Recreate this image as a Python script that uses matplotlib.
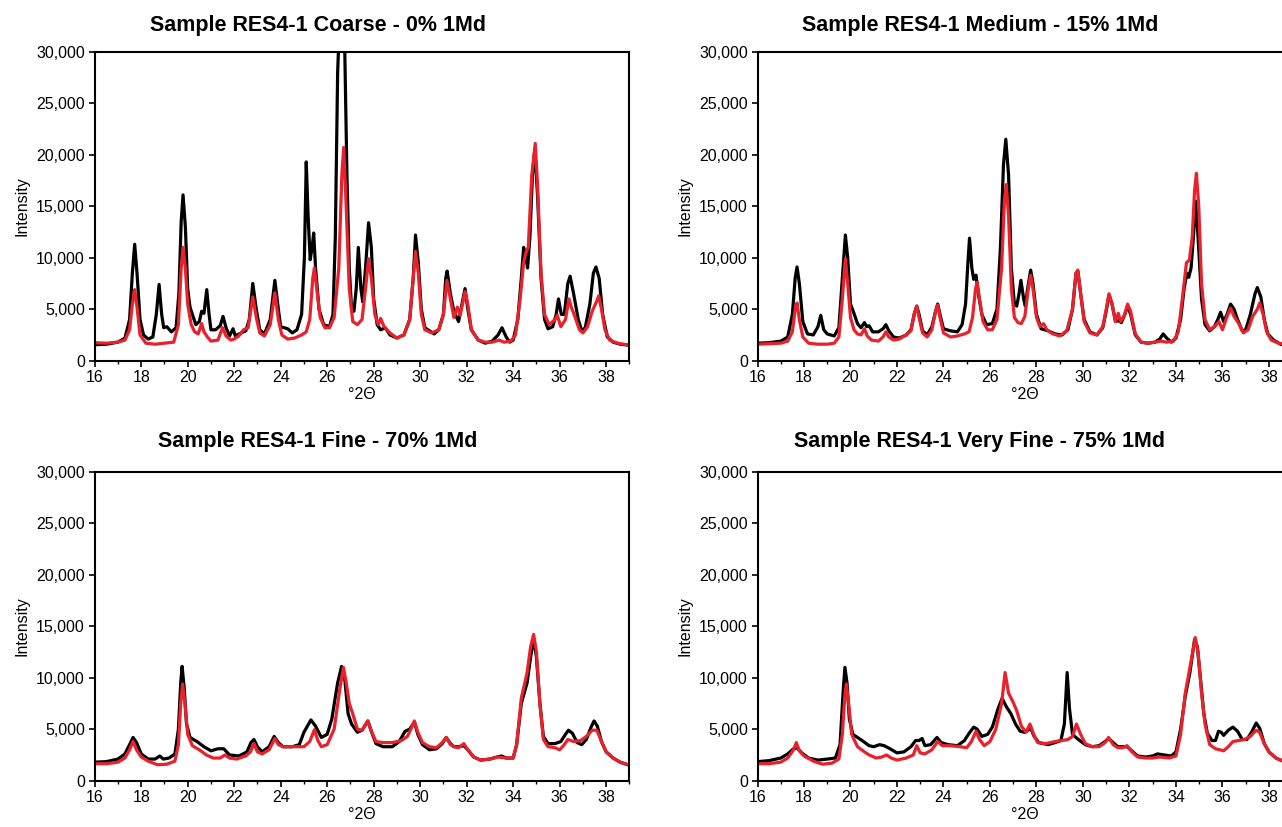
import matplotlib
matplotlib.use("Agg")
import matplotlib.pyplot as plt
from matplotlib.ticker import MultipleLocator, StrMethodFormatter

plt.rcParams['font.family'] = ['Liberation Sans', 'DejaVu Sans']

#---Diffractograms: (2-theta, intensity)
coarse_black = [
    (16.0, 1550), (16.5, 1600), (17.0, 1800), (17.3, 2200), (17.5, 4000), (17.62, 8500), (17.72, 11300),
    (17.82, 8500), (17.95, 4000), (18.1, 2500), (18.3, 2100), (18.5, 2300), (18.65, 4500), (18.77, 7400),
    (18.88, 4500), (18.97, 3200), (19.1, 3300), (19.3, 2800), (19.5, 3200), (19.62, 6500), (19.72, 13500),
    (19.8, 16100), (19.9, 13000), (20.0, 7000), (20.1, 5200), (20.2, 4500), (20.35, 3500), (20.5, 3800),
    (20.6, 4800), (20.7, 4600), (20.82, 6900), (20.92, 4500), (21.0, 3000), (21.2, 3000), (21.4, 3400),
    (21.52, 4300), (21.65, 3200), (21.8, 2400), (21.95, 3100), (22.05, 2400), (22.3, 2700), (22.5, 2900),
    (22.65, 4000), (22.8, 7500), (22.95, 5000), (23.1, 3000), (23.3, 2600), (23.55, 4000), (23.75, 7800),
    (23.9, 5000), (24.0, 3300), (24.3, 3100), (24.5, 2700), (24.7, 3000), (24.9, 4500), (25.02, 10000),
    (25.1, 19300), (25.18, 14000), (25.27, 9800), (25.35, 11000), (25.42, 12400), (25.5, 9000), (25.65, 5000),
    (25.85, 3500), (26.1, 3300), (26.25, 4500), (26.35, 12000), (26.45, 28000), (26.55, 34000), (26.65, 35000),
    (26.75, 31000), (26.85, 18000), (26.95, 9000), (27.05, 5000), (27.15, 4800), (27.25, 7000), (27.34, 11000),
    (27.45, 7000), (27.53, 5700), (27.65, 9000), (27.78, 13400), (27.9, 11000), (28.0, 6000), (28.15, 3500),
    (28.3, 3000), (28.5, 3200), (28.7, 2500), (29.0, 2200), (29.3, 2500), (29.55, 4000), (29.7, 8000),
    (29.8, 12200), (29.92, 9500), (30.05, 5000), (30.2, 3200), (30.4, 2900), (30.6, 2600), (30.8, 3000),
    (31.0, 4500), (31.1, 8000), (31.16, 8700), (31.3, 6500), (31.45, 4800), (31.55, 4300), (31.65, 3800),
    (31.8, 5500), (31.93, 7000), (32.05, 5000), (32.2, 3000), (32.5, 2000), (32.8, 1700), (33.1, 1900),
    (33.35, 2500), (33.52, 3200), (33.7, 2300), (33.85, 1800), (34.0, 2000), (34.2, 4000), (34.35, 8000),
    (34.45, 11000), (34.55, 10000), (34.62, 9000), (34.72, 12000), (34.83, 18000), (34.93, 20500),
    (35.05, 16000), (35.2, 8000), (35.35, 4000), (35.5, 3100), (35.7, 3300), (35.85, 4500), (35.95, 6000),
    (36.07, 4500), (36.2, 4500), (36.35, 7500), (36.45, 8200), (36.6, 6500), (36.8, 4000), (36.95, 2900),
    (37.1, 3200), (37.3, 5500), (37.45, 8500), (37.56, 9100), (37.7, 8000), (37.85, 4500), (38.05, 2300),
    (38.3, 1800), (38.6, 1600), (39.0, 1500)]

coarse_red = [
    (16.0, 1750), (16.5, 1700), (17.0, 1800), (17.3, 2000), (17.5, 3000), (17.62, 5500), (17.72, 6900),
    (17.82, 5200), (17.95, 2500), (18.2, 1700), (18.6, 1600), (19.0, 1700), (19.4, 1800), (19.6, 3500),
    (19.72, 9000), (19.8, 11000), (19.9, 9000), (20.0, 5500), (20.15, 3500), (20.3, 2800), (20.45, 2600),
    (20.6, 3600), (20.7, 2800), (20.85, 2300), (21.0, 1900), (21.3, 2000), (21.5, 3200), (21.65, 2400),
    (21.85, 2000), (22.0, 2100), (22.2, 2400), (22.4, 3000), (22.6, 3200), (22.8, 6200), (22.95, 4200),
    (23.1, 2700), (23.3, 2400), (23.55, 3500), (23.75, 6600), (23.9, 4000), (24.05, 2500), (24.3, 2100),
    (24.6, 2200), (24.9, 2500), (25.1, 2800), (25.25, 4000), (25.38, 8000), (25.45, 9000), (25.55, 7000),
    (25.7, 4200), (25.9, 3200), (26.1, 3200), (26.3, 4200), (26.5, 9000), (26.63, 18000), (26.71, 20700),
    (26.8, 16000), (26.95, 7000), (27.1, 3800), (27.3, 3500), (27.5, 4000), (27.65, 7000), (27.78, 9900),
    (27.9, 8000), (28.05, 4500), (28.2, 3500), (28.3, 4100), (28.45, 3300), (28.7, 2700), (29.0, 2200),
    (29.3, 2500), (29.55, 4000), (29.7, 8000), (29.8, 10600), (29.92, 8500), (30.05, 4500), (30.2, 3000),
    (30.5, 2700), (30.8, 3000), (31.0, 4500), (31.15, 7800), (31.3, 6000), (31.45, 4200), (31.6, 5200),
    (31.72, 4400), (31.93, 6700), (32.05, 5500), (32.2, 3000), (32.5, 2000), (32.8, 1800), (33.1, 1800),
    (33.4, 2000), (33.6, 1800), (33.9, 1900), (34.1, 2500), (34.3, 6000), (34.45, 9500), (34.55, 10500),
    (34.65, 11000), (34.8, 18000), (34.95, 21100), (35.05, 17000), (35.2, 8500), (35.35, 4500), (35.55, 3500),
    (35.8, 4000), (35.9, 4400), (36.05, 3300), (36.25, 4000), (36.4, 6000), (36.5, 5200), (36.65, 4300),
    (36.85, 3000), (37.0, 2700), (37.2, 3300), (37.4, 4800), (37.6, 5800), (37.68, 6300), (37.8, 5000),
    (37.95, 3000), (38.15, 2000), (38.5, 1700), (39.0, 1500)]

medium_black = [
    (16.0, 1700), (16.5, 1750), (17.0, 1900), (17.3, 2300), (17.5, 4500), (17.62, 8000), (17.7, 9100),
    (17.8, 7500), (17.95, 3800), (18.15, 2600), (18.4, 2500), (18.6, 3300), (18.72, 4400), (18.85, 3000),
    (19.0, 2600), (19.3, 2400), (19.5, 3200), (19.65, 8000), (19.78, 12200), (19.88, 10000), (20.0, 5500),
    (20.15, 4600), (20.3, 3600), (20.45, 3200), (20.6, 3700), (20.7, 3300), (20.8, 3400), (20.95, 2800),
    (21.2, 2800), (21.4, 3100), (21.52, 3500), (21.65, 2900), (21.85, 2300), (22.1, 2200), (22.4, 2500),
    (22.6, 3000), (22.75, 4600), (22.85, 5300), (22.95, 4500), (23.1, 2900), (23.3, 2500), (23.5, 3300),
    (23.65, 4700), (23.75, 5500), (23.87, 4300), (24.0, 3100), (24.3, 2900), (24.6, 2800), (24.8, 3500),
    (24.95, 5500), (25.05, 9500), (25.12, 11900), (25.22, 9000), (25.3, 7900), (25.4, 8300), (25.5, 6500),
    (25.65, 4500), (25.85, 3500), (26.1, 3600), (26.3, 5000), (26.45, 11000), (26.58, 19000), (26.68, 21500),
    (26.8, 18000), (26.92, 9000), (27.05, 5500), (27.15, 5300), (27.25, 6500), (27.33, 7800), (27.45, 6000),
    (27.52, 5300), (27.62, 7000), (27.75, 8800), (27.85, 7500), (28.0, 4500), (28.2, 3100), (28.5, 2900),
    (28.8, 2600), (29.1, 2500), (29.35, 3000), (29.55, 5000), (29.7, 8500), (29.78, 8700), (29.9, 6500),
    (30.05, 4000), (30.3, 2800), (30.6, 2500), (30.85, 3200), (31.0, 4800), (31.12, 6400), (31.25, 5500),
    (31.4, 3800), (31.52, 3900), (31.65, 3700), (31.8, 4500), (31.92, 5300), (32.05, 4500), (32.25, 2500),
    (32.5, 1800), (32.8, 1700), (33.1, 1800), (33.3, 2100), (33.45, 2600), (33.6, 2200), (33.8, 1800),
    (34.0, 2200), (34.2, 4000), (34.35, 7000), (34.47, 8500), (34.55, 8100), (34.65, 9000), (34.75, 12000),
    (34.85, 15500), (34.95, 12000), (35.1, 6000), (35.25, 3500), (35.45, 2900), (35.65, 3300), (35.8, 4000),
    (35.92, 4700), (36.05, 3800), (36.2, 4500), (36.35, 5500), (36.5, 5000), (36.65, 4000), (36.85, 2900),
    (37.0, 3000), (37.2, 4500), (37.4, 6500), (37.5, 7100), (37.65, 6200), (37.8, 4000), (37.95, 2600),
    (38.2, 2000), (38.5, 1600), (39.0, 1500)]

medium_red = [
    (16.0, 1600), (16.5, 1650), (17.0, 1700), (17.3, 1900), (17.5, 2800), (17.62, 5000), (17.7, 5600),
    (17.8, 4000), (17.95, 2300), (18.2, 1700), (18.6, 1600), (19.0, 1600), (19.3, 1700), (19.5, 2300),
    (19.65, 6000), (19.78, 9900), (19.88, 7500), (20.0, 4200), (20.15, 3000), (20.3, 2600), (20.45, 2500),
    (20.6, 3100), (20.72, 2400), (20.9, 2000), (21.2, 1900), (21.4, 2300), (21.52, 2800), (21.65, 2300),
    (21.85, 2000), (22.1, 2100), (22.4, 2500), (22.6, 2900), (22.75, 4600), (22.85, 5300), (22.95, 4200),
    (23.1, 2700), (23.3, 2300), (23.5, 3000), (23.65, 4700), (23.75, 5400), (23.87, 4000), (24.0, 2700),
    (24.3, 2300), (24.6, 2400), (24.9, 2600), (25.1, 2800), (25.25, 4200), (25.38, 7000), (25.45, 7600),
    (25.55, 6000), (25.7, 3800), (25.9, 3000), (26.1, 3000), (26.3, 4000), (26.5, 9000), (26.62, 15500),
    (26.7, 17100), (26.8, 14000), (26.92, 7000), (27.05, 4200), (27.2, 3700), (27.35, 3600), (27.5, 4300),
    (27.65, 7000), (27.75, 8300), (27.85, 7000), (28.0, 4200), (28.15, 3300), (28.3, 3600), (28.45, 3000),
    (28.7, 2600), (29.0, 2400), (29.3, 2900), (29.55, 5000), (29.7, 8500), (29.78, 8800), (29.9, 6500),
    (30.05, 3800), (30.3, 2700), (30.6, 2500), (30.85, 3300), (31.0, 5000), (31.12, 6500), (31.25, 5500),
    (31.4, 3800), (31.52, 4600), (31.62, 3800), (31.78, 4400), (31.92, 5500), (32.05, 4800), (32.25, 2600),
    (32.5, 1800), (32.8, 1700), (33.1, 1800), (33.35, 1900), (33.6, 1800), (33.9, 1900), (34.1, 2800),
    (34.3, 6500), (34.45, 9500), (34.58, 9800), (34.7, 12000), (34.8, 16500), (34.88, 18200), (34.98, 15000),
    (35.1, 7500), (35.25, 4000), (35.45, 3000), (35.7, 3400), (35.85, 3800), (36.0, 3000), (36.2, 4300),
    (36.35, 5100), (36.5, 4300), (36.7, 3600), (36.9, 2700), (37.1, 3000), (37.3, 4300), (37.5, 5000),
    (37.6, 5600), (37.75, 4500), (37.9, 2800), (38.1, 2000), (38.4, 1700), (39.0, 1500)]

fine_black = [
    (16.0, 1800), (16.5, 1850), (17.0, 2100), (17.3, 2600), (17.5, 3500), (17.65, 4200), (17.8, 3700),
    (18.0, 2600), (18.3, 2100), (18.6, 2100), (18.8, 2400), (18.95, 2100), (19.2, 2200), (19.45, 2600),
    (19.6, 5000), (19.7, 9500), (19.76, 11100), (19.85, 9000), (19.95, 5500), (20.1, 4200), (20.4, 3800),
    (20.7, 3300), (21.0, 2900), (21.3, 3100), (21.55, 3100), (21.8, 2500), (22.2, 2400), (22.55, 2800),
    (22.72, 3700), (22.85, 4000), (23.0, 3300), (23.2, 2800), (23.5, 3300), (23.72, 4300), (23.9, 3700),
    (24.1, 3300), (24.5, 3300), (24.8, 3500), (25.0, 4700), (25.3, 5900), (25.5, 5300), (25.75, 4200),
    (26.0, 4500), (26.2, 6000), (26.45, 9500), (26.62, 11100), (26.75, 10000), (26.9, 6500), (27.05, 5500),
    (27.3, 4700), (27.5, 4900), (27.75, 5800), (27.9, 4800), (28.1, 3600), (28.4, 3300), (28.8, 3300),
    (29.1, 3800), (29.35, 4800), (29.55, 5000), (29.75, 5700), (29.9, 4500), (30.1, 3500), (30.4, 3000),
    (30.7, 3100), (30.95, 3600), (31.12, 4200), (31.3, 3600), (31.45, 3300), (31.65, 3300), (31.88, 3400),
    (32.05, 3000), (32.3, 2300), (32.6, 2000), (33.0, 2100), (33.3, 2300), (33.5, 2400), (33.7, 2200),
    (34.0, 2200), (34.15, 3500), (34.35, 7500), (34.6, 9500), (34.75, 12000), (34.88, 13800), (35.0, 12000),
    (35.15, 7500), (35.3, 4300), (35.5, 3600), (35.8, 3600), (36.05, 3800), (36.25, 4500), (36.38, 4900),
    (36.55, 4600), (36.75, 3700), (36.95, 3500), (37.15, 4000), (37.35, 5200), (37.48, 5800), (37.62, 5300),
    (37.8, 3800), (38.0, 2800), (38.3, 2200), (38.6, 1800), (39.0, 1500)]

fine_red = [
    (16.0, 1650), (16.5, 1650), (17.0, 1800), (17.3, 2200), (17.5, 3000), (17.65, 3800), (17.8, 3000),
    (18.0, 2300), (18.3, 1900), (18.7, 1550), (19.1, 1600), (19.45, 1900), (19.6, 3500), (19.7, 7500),
    (19.78, 9400), (19.88, 7500), (20.0, 4500), (20.2, 3400), (20.5, 3000), (20.8, 2500), (21.1, 2200),
    (21.4, 2200), (21.6, 2500), (21.8, 2200), (22.1, 2100), (22.5, 2400), (22.7, 2800), (22.85, 3600),
    (23.0, 2800), (23.2, 2600), (23.5, 3000), (23.75, 4100), (23.9, 3500), (24.1, 3300), (24.5, 3300),
    (25.0, 3300), (25.25, 3800), (25.45, 4950), (25.6, 3900), (25.75, 3300), (26.0, 3500), (26.3, 5000),
    (26.55, 9000), (26.7, 11000), (26.82, 9500), (26.95, 7500), (27.1, 6500), (27.3, 5000), (27.5, 4900),
    (27.75, 5800), (27.9, 4800), (28.1, 3800), (28.4, 3700), (28.8, 3700), (29.2, 3900), (29.45, 4300),
    (29.6, 5000), (29.75, 5800), (29.9, 4700), (30.1, 3700), (30.4, 3300), (30.7, 3200), (30.95, 3700),
    (31.12, 4200), (31.3, 3500), (31.45, 3300), (31.65, 3200), (31.88, 3600), (32.05, 3000), (32.3, 2300),
    (32.6, 2000), (33.0, 2100), (33.35, 2300), (33.7, 2200), (34.0, 2200), (34.15, 3500), (34.35, 8000),
    (34.6, 10500), (34.75, 13000), (34.88, 14200), (35.0, 12500), (35.15, 7500), (35.3, 4000), (35.5, 3300),
    (35.8, 3200), (36.0, 3000), (36.2, 3500), (36.35, 4000), (36.6, 3800), (36.9, 3900), (37.15, 4300),
    (37.4, 4900), (37.6, 4900), (37.8, 3800), (38.0, 2800), (38.3, 2200), (38.6, 1800), (39.0, 1500)]

vfine_black = [
    (16.0, 1850), (16.5, 1950), (17.0, 2200), (17.3, 2600), (17.55, 3100), (17.7, 3200), (17.9, 2700),
    (18.2, 2200), (18.6, 2000), (19.0, 2100), (19.35, 2200), (19.55, 3500), (19.68, 8500), (19.76, 11000),
    (19.85, 9500), (19.95, 6000), (20.1, 4500), (20.5, 3900), (20.8, 3400), (21.0, 3300), (21.25, 3500),
    (21.45, 3400), (21.7, 3100), (22.0, 2700), (22.3, 2800), (22.6, 3300), (22.8, 3900), (22.95, 3900),
    (23.08, 4100), (23.2, 3400), (23.45, 3500), (23.72, 4200), (23.9, 3700), (24.2, 3500), (24.6, 3400),
    (24.9, 3900), (25.1, 4600), (25.3, 5200), (25.45, 5000), (25.65, 4300), (25.9, 4500), (26.1, 5200),
    (26.35, 7000), (26.52, 8000), (26.7, 7200), (26.9, 6500), (27.1, 5500), (27.3, 4800), (27.5, 4700),
    (27.75, 5100), (27.9, 4300), (28.1, 3700), (28.5, 3500), (28.8, 3700), (29.05, 3900), (29.2, 5500),
    (29.32, 10500), (29.42, 7000), (29.55, 4500), (29.8, 4000), (30.1, 3500), (30.4, 3300), (30.7, 3400),
    (30.95, 3800), (31.1, 4100), (31.3, 3700), (31.5, 3300), (31.7, 3300), (31.9, 3300), (32.1, 2900),
    (32.35, 2400), (32.7, 2300), (33.0, 2400), (33.2, 2600), (33.5, 2500), (33.8, 2400), (34.0, 2800),
    (34.2, 5000), (34.4, 8200), (34.6, 10500), (34.8, 13700), (34.92, 13000), (35.05, 10000), (35.2, 6500),
    (35.35, 4600), (35.55, 3900), (35.7, 3900), (35.83, 4800), (35.95, 4700), (36.05, 4400), (36.25, 4900),
    (36.45, 5200), (36.65, 4800), (36.85, 4000), (37.05, 4000), (37.25, 4700), (37.45, 5600), (37.6, 5100),
    (37.8, 3600), (38.0, 2800), (38.3, 2200), (38.6, 1900), (39.0, 1800)]

vfine_red = [
    (16.0, 1650), (16.5, 1650), (17.0, 1800), (17.3, 2200), (17.55, 3000), (17.67, 3700), (17.8, 2900),
    (18.0, 2400), (18.4, 1900), (18.8, 1600), (19.2, 1700), (19.5, 2100), (19.65, 4500), (19.75, 8000),
    (19.82, 9400), (19.92, 7500), (20.05, 4500), (20.3, 3300), (20.6, 2800), (20.8, 2500), (21.1, 2200),
    (21.35, 2300), (21.55, 2500), (21.75, 2200), (22.0, 2000), (22.4, 2200), (22.7, 2500), (22.85, 3400),
    (23.0, 2700), (23.2, 2600), (23.5, 3000), (23.75, 3800), (23.95, 3400), (24.3, 3400), (24.7, 3300),
    (25.0, 3200), (25.2, 3800), (25.4, 4800), (25.55, 4000), (25.75, 3400), (26.0, 3800), (26.25, 5000),
    (26.5, 7500), (26.65, 10500), (26.8, 8500), (27.0, 7600), (27.15, 6800), (27.35, 5300), (27.55, 4700),
    (27.72, 5500), (27.88, 4500), (28.05, 3700), (28.4, 3600), (28.8, 3800), (29.1, 3900), (29.35, 4000),
    (29.55, 4300), (29.72, 5500), (29.9, 4500), (30.1, 3600), (30.4, 3300), (30.7, 3300), (30.95, 3700),
    (31.1, 4200), (31.3, 3500), (31.5, 3200), (31.7, 3200), (31.9, 3400), (32.1, 2800), (32.35, 2300),
    (32.7, 2200), (33.0, 2200), (33.3, 2300), (33.7, 2200), (34.0, 2400), (34.2, 4500), (34.4, 8500),
    (34.6, 11000), (34.83, 13900), (34.95, 12500), (35.1, 8500), (35.25, 5500), (35.45, 3500), (35.7, 3100),
    (35.9, 3000), (36.05, 2900), (36.25, 3300), (36.45, 3800), (36.7, 3900), (36.95, 4000), (37.2, 4300),
    (37.45, 4900), (37.6, 4700), (37.8, 3600), (38.0, 2800), (38.3, 2200), (38.6, 1900), (39.0, 1800)]

titles = ['Sample RES4-1 Coarse - 0% 1Md', 'Sample RES4-1 Medium - 15% 1Md',
          'Sample RES4-1 Fine - 70% 1Md', 'Sample RES4-1 Very Fine - 75% 1Md']
panels = [(coarse_black, coarse_red), (medium_black, medium_red),
          (fine_black, fine_red), (vfine_black, vfine_red)]

BLACK = '#000000'
RED = '#e8212b'

fig = plt.figure(figsize=(12.82, 8.27), dpi=100)

#---axes boxes in figure pixels (right column runs past the edge)
W, H = 1282., 827.
ax_pos = [(94.7, 51.7), (757.5, 51.7), (94.7, 471.7), (757.5, 471.7)]
ax_w, ax_h = 534.7, 309.0
title_xy = [(318, 25), (980, 25), (318, 442), (980, 442)]

for i in range(4):
    px, py = ax_pos[i]
    ax = fig.add_axes([px / W, 1 - (py + ax_h) / H, ax_w / W, ax_h / H])
    black, red = panels[i]
    bx, by = zip(*black)
    rx, ry = zip(*red)
    ax.plot(bx, by, color=BLACK, lw=2.3, solid_joinstyle='round')
    ax.plot(rx, ry, color=RED, lw=2.3, solid_joinstyle='round')

    ax.set_xlim(16, 39)
    ax.set_ylim(0, 30000)
    ax.xaxis.set_major_locator(MultipleLocator(2))
    ax.xaxis.set_minor_locator(MultipleLocator(1))
    ax.yaxis.set_major_locator(MultipleLocator(5000))
    ax.yaxis.set_major_formatter(StrMethodFormatter('{x:,.0f}'))
    ax.tick_params(which='major', direction='out', length=4, width=1.2, labelsize=11.5, pad=3)
    ax.tick_params(which='minor', direction='out', length=2.5, width=1.0)
    for sp in ax.spines.values():
        sp.set_linewidth(1.5)

    ax.set_ylabel('Intensity', fontsize=11.5, labelpad=5)
    ax.set_xlabel('°2Θ', fontsize=11.5, labelpad=1)

    tx, ty = title_xy[i]
    fig.text(tx / W, 1 - ty / H, titles[i], ha='center', va='center',
             fontsize=15.5, fontweight='bold')

plt.savefig('out.png', dpi=100)
